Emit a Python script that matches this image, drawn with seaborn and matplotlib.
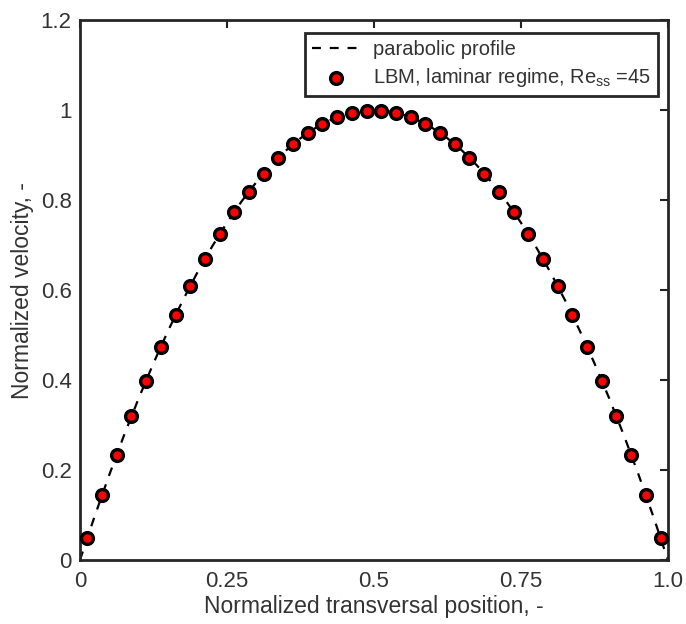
import matplotlib
matplotlib.use("Agg")
import matplotlib.pyplot as plt
import seaborn as sns
import pandas as pd

# Parabolic profile (dashed line)
line_x = [0.0, 0.025, 0.05, 0.075, 0.1, 0.125, 0.15, 0.175, 0.2, 0.225, 0.25,
          0.275, 0.3, 0.325, 0.35, 0.375, 0.4, 0.425, 0.45, 0.475, 0.5,
          0.525, 0.55, 0.575, 0.6, 0.625, 0.65, 0.675, 0.7, 0.725, 0.75,
          0.775, 0.8, 0.825, 0.85, 0.875, 0.9, 0.925, 0.95, 0.975, 1.0]
line_y = [0.0, 0.0975, 0.19, 0.2775, 0.36, 0.4375, 0.51, 0.5775, 0.64, 0.6975, 0.75,
          0.7975, 0.84, 0.8775, 0.91, 0.9375, 0.96, 0.9775, 0.99, 0.9975, 1.0,
          0.9975, 0.99, 0.9775, 0.96, 0.9375, 0.91, 0.8775, 0.84, 0.7975, 0.75,
          0.6975, 0.64, 0.5775, 0.51, 0.4375, 0.36, 0.2775, 0.19, 0.0975, 0.0]

# LBM points
lbm_x = [0.0125, 0.0375, 0.0625, 0.0875, 0.1125, 0.1375, 0.1625, 0.1875, 0.2125, 0.2375,
         0.2625, 0.2875, 0.3125, 0.3375, 0.3625, 0.3875, 0.4125, 0.4375, 0.4625, 0.4875,
         0.5125, 0.5375, 0.5625, 0.5875, 0.6125, 0.6375, 0.6625, 0.6875, 0.7125, 0.7375,
         0.7625, 0.7875, 0.8125, 0.8375, 0.8625, 0.8875, 0.9125, 0.9375, 0.9625, 0.9875]
lbm_y = [0.049, 0.144, 0.234, 0.319, 0.399, 0.474, 0.544, 0.609, 0.669, 0.724,
         0.774, 0.819, 0.859, 0.894, 0.924, 0.949, 0.969, 0.984, 0.994, 0.999,
         0.999, 0.994, 0.984, 0.969, 0.949, 0.924, 0.894, 0.859, 0.819, 0.774,
         0.724, 0.669, 0.609, 0.544, 0.474, 0.399, 0.319, 0.234, 0.144, 0.049]

x_ticks = [0, 0.25, 0.5, 0.75, 1.0]
x_tick_labels = ["0", "0.25", "0.5", "0.75", "1.0"]
y_ticks = [0, 0.2, 0.4, 0.6, 0.8, 1.0, 1.2]
y_tick_labels = ["0", "0.2", "0.4", "0.6", "0.8", "1", "1.2"]

sns.set_style("white")
plt.rcParams['font.family'] = ['Liberation Sans', 'DejaVu Sans']
plt.rcParams['mathtext.fontset'] = 'custom'
plt.rcParams['mathtext.rm'] = 'Liberation Sans'
plt.rcParams['mathtext.it'] = 'Liberation Sans'

TXT = "#333333"

fig = plt.figure(figsize=(6.86, 6.24), dpi=100)
ax = fig.add_axes([0.1166, 0.1026, 0.857, 0.865])

df_line = pd.DataFrame({"x": line_x, "y": line_y})
df_pts = pd.DataFrame({"x": lbm_x, "y": lbm_y})

sns.lineplot(data=df_line, x="x", y="y", ax=ax, color="black", lw=1.6,
             linestyle=(0, (4, 4)), label="parabolic profile", sort=False)
sns.scatterplot(data=df_pts, x="x", y="y", ax=ax, color="#ff0000", edgecolor="black",
                linewidth=2.4, s=72, zorder=3,
                label=r"LBM, laminar regime, Re$_{\mathrm{ss}}$ =45")

ax.set_xlim(0, 1.0)
ax.set_ylim(0, 1.2)
ax.set_xticks(x_ticks)
ax.set_xticklabels(x_tick_labels)
ax.set_yticks(y_ticks)
ax.set_yticklabels(y_tick_labels)
ax.tick_params(direction="in", length=6, width=1.5, top=True, right=True,
               labelsize=16, colors="#222222", labelcolor=TXT)
ax.tick_params(axis="x", pad=8)
ax.tick_params(axis="y", pad=6)
for s in ax.spines.values():
    s.set_linewidth(2.0)
    s.set_color("#262626")
    s.set_visible(True)

ax.set_xlabel("Normalized transversal position, -", fontsize=16.5, color=TXT, labelpad=2)
ax.set_ylabel("Normalized velocity, -", fontsize=16.5, color=TXT, labelpad=5)

leg = ax.legend(loc="upper right", fontsize=14.5, frameon=True, fancybox=False,
                edgecolor="#262626", framealpha=1, borderpad=0.35, handlelength=2.4,
                handletextpad=0.6, labelspacing=0.35, borderaxespad=0,
                bbox_to_anchor=(0.983, 0.976))
leg.get_frame().set_linewidth(2.0)
for t in leg.get_texts():
    t.set_color(TXT)

fig.savefig("out.png", dpi=100)
